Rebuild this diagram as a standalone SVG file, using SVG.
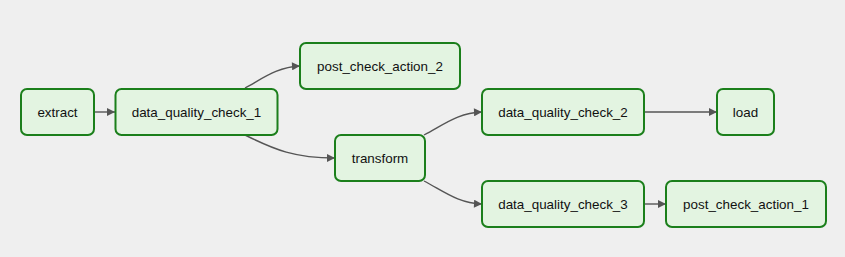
<svg xmlns="http://www.w3.org/2000/svg" width="845" height="257" viewBox="0 0 845 257">
<defs>
<marker id="arr" viewBox="0 0 10 10" refX="10" refY="5" markerWidth="9" markerHeight="8" markerUnits="userSpaceOnUse" orient="auto">
<path d="M0,0 L10,5 L0,10 z" fill="#555"/>
</marker>
<style>
.node rect{fill:#e3f4e1;stroke:#1b7f1b;stroke-width:2}
.node text{font-family:"Liberation Sans",Arial,sans-serif;font-size:13.4px;fill:#111;text-anchor:middle;dominant-baseline:central}
.edge{fill:none;stroke:#555;stroke-width:1.4;marker-end:url(#arr)}
</style>
</defs>
<rect width="845" height="257" fill="#efefef"/>
<g id="connectors">
<path class="edge" d="M94,112 L115,112"/>
<path class="edge" d="M245,88 C262,79 277,67 300,66"/>
<path class="edge" d="M245,135 C275,150 295,158 335,158"/>
<path class="edge" d="M424,135 C445,124 458,113 482,112"/>
<path class="edge" d="M424,181 C445,192 458,203 482,204"/>
<path class="edge" d="M644,112 L717,112"/>
<path class="edge" d="M644,204 L666,204"/>
</g>
<g id="extract" class="node"><rect x="21" y="89" width="73" height="46" rx="6"/><text x="57.5" y="112">extract</text></g>
<g id="data_quality_check_1" class="node"><rect x="115.5" y="89" width="162" height="46" rx="6"/><text x="196.5" y="112">data_quality_check_1</text></g>
<g id="post_check_action_2" class="node"><rect x="300" y="43" width="160" height="46" rx="6"/><text x="380" y="66">post_check_action_2</text></g>
<g id="transform" class="node"><rect x="335" y="135" width="90" height="46" rx="6"/><text x="380" y="158">transform</text></g>
<g id="data_quality_check_2" class="node"><rect x="482" y="89" width="162" height="46" rx="6"/><text x="563" y="112">data_quality_check_2</text></g>
<g id="load" class="node"><rect x="717" y="89" width="57" height="46" rx="6"/><text x="745.5" y="112">load</text></g>
<g id="data_quality_check_3" class="node"><rect x="482" y="181" width="162" height="46" rx="6"/><text x="563" y="204">data_quality_check_3</text></g>
<g id="post_check_action_1" class="node"><rect x="666" y="181" width="160" height="46" rx="6"/><text x="746" y="204">post_check_action_1</text></g>
</svg>
